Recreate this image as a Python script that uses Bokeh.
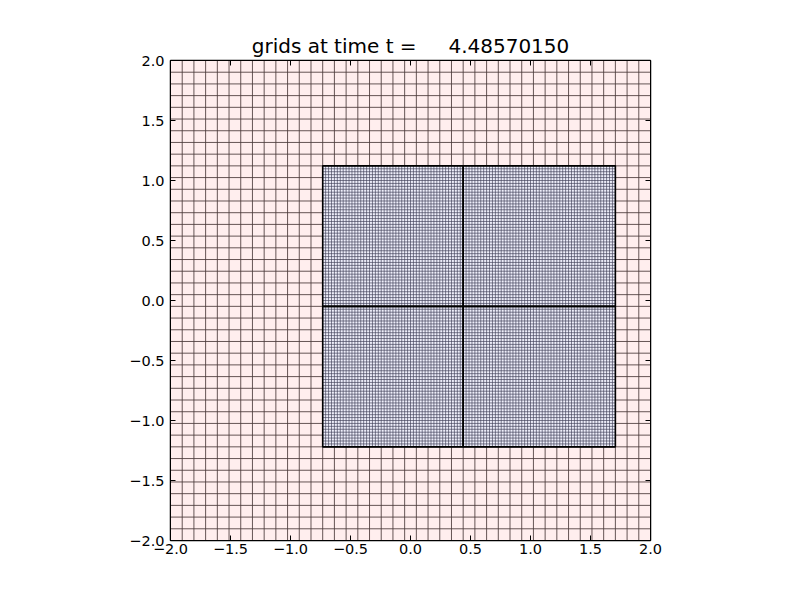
import numpy as np
from bokeh.plotting import figure
from bokeh.models import Range1d, LinearAxis, FixedTicker
from bokeh.embed import file_html
from bokeh.resources import INLINE

# ---- data ----
title_text = "grids at time t =\u00a0\u00a0\u00a0\u00a0\u00a04.48570150"
domain_lo = -2.0
domain_hi = 2.0
n_coarse = 41            # coarse cells per direction
refine = 4               # refinement ratio of the fine patches
patch_i_lo = [13, 25, 13, 25]
patch_i_hi = [25, 38, 25, 38]
patch_j_lo = [8, 8, 20, 20]
patch_j_hi = [20, 20, 32, 32]
tick_values = [-2.0, -1.5, -1.0, -0.5, 0.0, 0.5, 1.0, 1.5, 2.0]
tick_labels = ["\u22122.0", "\u22121.5", "\u22121.0", "\u22120.5", "0.0", "0.5", "1.0", "1.5", "2.0"]

W, H = 800, 600
p = figure(width=W, height=H, output_backend="svg", toolbar_location=None,
           x_range=Range1d(domain_lo, domain_hi), y_range=Range1d(domain_lo, domain_hi),
           min_border_left=170, min_border_right=150, min_border_top=60, min_border_bottom=60,
           x_axis_location=None, y_axis_location=None)
p.xgrid.visible = False
p.ygrid.visible = False
p.outline_line_color = "black"
p.outline_line_width = 1.5
p.background_fill_color = "white"
p.border_fill_color = "white"

dx = (domain_hi - domain_lo) / n_coarse

def grid_segments(x0, x1, y0, y1, nx, ny):
    xs = np.linspace(x0, x1, nx + 1)
    ys = np.linspace(y0, y1, ny + 1)
    sx0 = list(xs) + [x0] * len(ys)
    sx1 = list(xs) + [x1] * len(ys)
    sy0 = [y0] * len(xs) + list(ys)
    sy1 = [y1] * len(xs) + list(ys)
    return sx0, sy0, sx1, sy1

# coarse level
p.quad(left=[domain_lo], right=[domain_hi], bottom=[domain_lo], top=[domain_hi],
       fill_color="#ffeeee", line_color=None)
sx0, sy0, sx1, sy1 = grid_segments(domain_lo, domain_hi, domain_lo, domain_hi, n_coarse, n_coarse)
p.segment(sx0, sy0, sx1, sy1, line_color="#4a3a3a", line_width=1, line_alpha=0.85)

# fine patches
for il, ih, jl, jh in zip(patch_i_lo, patch_i_hi, patch_j_lo, patch_j_hi):
    x0 = domain_lo + il * dx
    x1 = domain_lo + ih * dx
    y0 = domain_lo + jl * dx
    y1 = domain_lo + jh * dx
    p.quad(left=[x0], right=[x1], bottom=[y0], top=[y1], fill_color="#eeeefa", line_color=None)
    sx0, sy0, sx1, sy1 = grid_segments(x0, x1, y0, y1, (ih - il) * refine, (jh - jl) * refine)
    p.segment(sx0, sy0, sx1, sy1, line_color="#404058", line_width=1, line_alpha=0.66)

for il, ih, jl, jh in zip(patch_i_lo, patch_i_hi, patch_j_lo, patch_j_hi):
    x0 = domain_lo + il * dx
    x1 = domain_lo + ih * dx
    y0 = domain_lo + jl * dx
    y1 = domain_lo + jh * dx
    p.quad(left=[x0], right=[x1], bottom=[y0], top=[y1], fill_color=None,
           line_color="black", line_width=1.6)

overrides = {v: s for v, s in zip(tick_values, tick_labels)}

def style_axis(ax, show_labels):
    ax.ticker = FixedTicker(ticks=tick_values)
    ax.major_label_overrides = overrides
    ax.major_tick_in = 5
    ax.major_tick_out = 0
    ax.minor_tick_line_color = None
    ax.axis_line_color = "black"
    ax.major_tick_line_color = "black"
    ax.major_label_text_font = "DejaVu Sans"
    ax.major_label_text_font_size = "14.5px"
    ax.major_label_text_color = "black"
    if not show_labels:
        ax.major_label_text_alpha = 0
        ax.major_label_text_font_size = "1px"
        ax.major_label_standoff = 0

ax_b = LinearAxis(); style_axis(ax_b, True); ax_b.major_label_standoff = 3
ax_l = LinearAxis(); style_axis(ax_l, True); ax_l.major_label_standoff = 6
ax_t = LinearAxis(); style_axis(ax_t, False)
ax_r = LinearAxis(); style_axis(ax_r, False)
p.add_layout(ax_b, "below")
p.add_layout(ax_l, "left")
p.add_layout(ax_t, "above")
p.add_layout(ax_r, "right")

p.title.text = title_text
p.title.text_font = "DejaVu Sans"
p.title.text_font_size = "20px"
p.title.text_font_style = "normal"
p.title.align = "center"
p.title.text_color = "black"
p.title.standoff = 6

open("out.html", "w").write(file_html(p, INLINE))
